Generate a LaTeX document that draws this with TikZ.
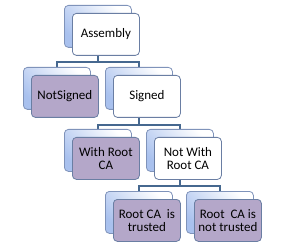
\documentclass[tikz,border=0pt]{standalone}
\usepackage{fontspec}
\setmainfont{Carlito}
\usetikzlibrary{backgrounds}
\definecolor{backblue}{HTML}{A9C1EE}
\definecolor{backline}{HTML}{7F93BA}
\definecolor{frontline}{HTML}{6A7EA3}
\definecolor{purplefill}{HTML}{B4A7C9}
\definecolor{connblue}{HTML}{46688F}
\tikzset{
  backbox/.style={draw=backline, line width=0.8pt, rounded corners=4pt,
    top color=white, bottom color=backblue, shading angle=-45,
    minimum width=67pt, minimum height=42pt, inner sep=0pt, anchor=north west},
  frontwhite/.style={draw=frontline, line width=0.8pt, rounded corners=4pt, fill=white,
    minimum width=67pt, minimum height=42pt, inner sep=0pt, anchor=north west,
    align=center, font=\fontsize{13}{13.5}\selectfont},
  frontpurple/.style={frontwhite, fill=purplefill},
  conn/.style={draw=connblue, line width=2.6pt}
}
\newcommand{\twobox}[5]{%
  \node[backbox] (#1-b) at (#2-8,#3-8) {};
  \node[#4] (#1) at (#2,#3) {#5};
}
\begin{document}
\begin{tikzpicture}[x=1pt,y=-1pt]
\useasboundingbox (0,0) rectangle (297,251);
\coordinate (bar1) at (0,62);
\coordinate (bar2) at (0,125);
\coordinate (bar3) at (0,186);
\twobox{asm}{72}{13}{frontwhite}{Assembly}
\twobox{ns}{31}{75}{frontpurple}{NotSigned}
\twobox{sg}{113}{75}{frontwhite}{Signed}
\twobox{wr}{72}{137}{frontpurple}{With Root\\CA}
\twobox{nw}{154}{137}{frontwhite}{Not With\\Root CA}
\twobox{rt}{113}{199}{frontpurple}{Root CA\ \ is\\trusted}
\twobox{rn}{194}{199}{frontpurple}{Root\ \ CA is\\not trusted}
\begin{scope}[on background layer]
\draw[conn] (asm-b.center) -- (asm-b.center |- bar1) -| (ns-b.north);
\draw[conn] (asm-b.center |- bar1) -| (sg-b.north);
\draw[conn] (sg-b.center) -- (sg-b.center |- bar2) -| (wr-b.north);
\draw[conn] (sg-b.center |- bar2) -| (nw-b.north);
\draw[conn] (nw-b.center) -- (nw-b.center |- bar3) -| (rt-b.north);
\draw[conn] (nw-b.center |- bar3) -| (rn-b.north);
\end{scope}
\end{tikzpicture}
\end{document}
